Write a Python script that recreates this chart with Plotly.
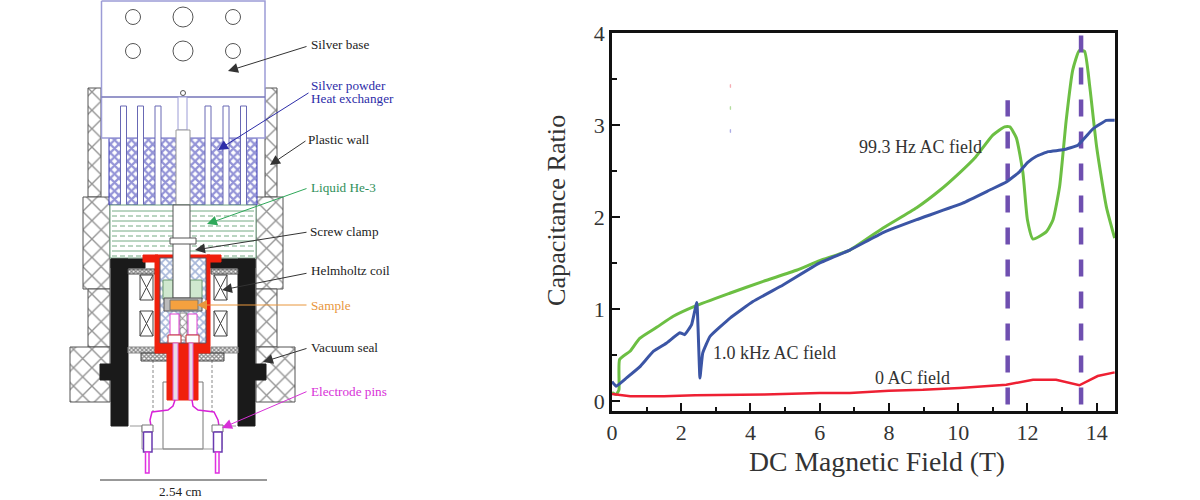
import plotly.graph_objects as go

# values
green_x = [0, 0.12, 0.2, 0.22, 0.52, 0.8, 1.29, 1.77, 2.4, 3.4, 4.37, 5.33, 6.0, 6.87, 7.83, 8.8, 9.47, 10.04, 10.5, 11.0, 11.34, 11.49, 11.68, 11.87, 12.0, 12.16, 12.55, 12.74, 12.93, 13.12, 13.31, 13.5, 13.65, 13.8, 14.0, 14.28, 14.52]
green_y = [0.09, 0.07, 0.12, 0.45, 0.54, 0.68, 0.80, 0.92, 1.03, 1.17, 1.30, 1.42, 1.525, 1.64, 1.88, 2.10, 2.29, 2.48, 2.65, 2.89, 2.98, 2.98, 2.86, 2.48, 1.97, 1.76, 1.84, 1.97, 2.33, 3.05, 3.6, 3.81, 3.80, 3.42, 2.76, 2.11, 1.77]
blue_x = [0, 0.12, 0.42, 0.8, 1.2, 1.58, 1.96, 2.1, 2.3, 2.45, 2.54, 2.62, 2.83, 3.41, 4.07, 4.94, 6.0, 6.87, 7.83, 8.8, 10.13, 10.9, 11.39, 11.77, 12.0, 12.26, 12.6, 13.03, 13.46, 13.9, 14.28, 14.52]
blue_y = [0.21, 0.16, 0.25, 0.37, 0.54, 0.63, 0.74, 0.72, 0.83, 1.07, 0.25, 0.52, 0.70, 0.90, 1.08, 1.26, 1.50, 1.64, 1.83, 1.97, 2.15, 2.29, 2.38, 2.49, 2.59, 2.66, 2.71, 2.73, 2.78, 2.96, 3.05, 3.05]
red_x = [0, 0.53, 1.5, 2.4, 4.4, 6.0, 6.87, 8.0, 8.98, 10.04, 11.39, 12.16, 12.83, 13.5, 14.03, 14.52]
red_y = [0.076, 0.05, 0.05, 0.06, 0.07, 0.085, 0.085, 0.11, 0.12, 0.14, 0.175, 0.23, 0.23, 0.17, 0.27, 0.31]
peak_x = [11.43, 13.55]
peak_top = [3.27, 4.0]
x_ticks = [0, 2, 4, 6, 8, 10, 12, 14]
y_ticks = [0, 1, 2, 3, 4]

SERIF = "Liberation Serif"
fig = go.Figure()

# ---- left panel: cell schematic, drawn on a hidden axis in picture units ----

def poly(xs, ys, fill=None, line="#555", width=1, pattern=None, dash=None):
    fig.add_trace(go.Scatter(
        x=xs, y=ys, xaxis="x2", yaxis="y2", mode="lines", hoverinfo="skip", showlegend=False,
        fill="toself" if (fill or pattern) else None,
        fillcolor=fill,
        fillpattern=pattern,
        line=dict(color=line, width=width, dash=dash),
    ))

def rect(x0, y0, x1, y1, **kw):
    poly([x0, x1, x1, x0, x0], [y0, y0, y1, y1, y0], **kw)

cross = dict(shape="x", size=13, solidity=0.2, fgcolor="#2a2a2a", bgcolor="white")
blue_cross = dict(shape="x", size=6, solidity=0.6, fgcolor="#2a2ab0", bgcolor="white")
fine_dots = dict(shape="x", size=3, solidity=0.65, fgcolor="#111", bgcolor="white")
PURPLE_EDGE = "#9c9cd6"
RED = "#f0200c"
BLACK = "#1a1a1a"

# plastic wall, left then right
rect(88, 88, 101, 197, pattern=cross, line="#555")
rect(83, 197, 110, 289, pattern=cross, line="#555")
rect(88, 289, 110, 347, pattern=cross, line="#555")
rect(70, 347, 110, 402, pattern=cross, line="#555")
rect(265, 88, 277, 197, pattern=cross, line="#555")
rect(256, 197, 283, 289, pattern=cross, line="#555")
rect(256, 289, 277, 347, pattern=cross, line="#555")
rect(256, 347, 295, 402, pattern=cross, line="#555")

# silver base, powder and fins
rect(109, 138, 257, 205, pattern=blue_cross, line="#3a3ab5")
rect(101.5, 1, 265, 138, fill="white", line=PURPLE_EDGE, width=1.5)
poly([101.5, 265], [97, 97], line="#7474b8", width=1.5)
for fx in [120.5, 137.5, 155, 205, 223, 240.5]:
    poly([fx, fx, fx + 6, fx + 6], [205, 106, 106, 205], fill="white", line="#6868b4")
rect(178, 97, 187, 130, fill="white", line=PURPLE_EDGE)
rect(176, 130, 190, 205, fill="white", line="#999")

# liquid He-3
rect(110, 205, 256, 258, fill="white", line="#70a080")
for i, ly in enumerate(range(211, 258, 5)):
    poly([112, 254], [ly, ly], line="#74ab84", width=1, dash=None if i % 2 == 0 else "5px,3px")

# black can
rect(111, 259, 145, 268, fill=BLACK, line=BLACK)
rect(111, 259, 128, 426, fill=BLACK, line=BLACK)
rect(100, 364, 111, 380, fill=BLACK, line=BLACK)
rect(208, 259, 255, 268, fill=BLACK, line=BLACK)
rect(238, 259, 255, 426, fill=BLACK, line=BLACK)
rect(255, 364, 266, 380, fill=BLACK, line=BLACK)
rect(128, 269, 155, 274, pattern=fine_dots, line="#444")
rect(211, 269, 238, 274, pattern=fine_dots, line="#444")
rect(128, 347, 155, 353, pattern=fine_dots, line="#888")
rect(211, 347, 238, 353, pattern=fine_dots, line="#888")

# helmholtz coil
for cx in [140, 214]:
    for cy in [275, 311]:
        rect(cx, cy, cx + 13, cy + 25, fill="white", line="#444")
        poly([cx, cx + 13, None, cx, cx + 13], [cy, cy + 25, None, cy + 25, cy], line="#444")

# lower tube
poly([153, 153], [355, 412], line="#888", dash="3px,2px")
poly([212, 212], [355, 412], line="#888", dash="3px,2px")
rect(163, 382, 203, 449, fill="white", line="#777")
rect(141, 353, 224, 361, pattern=fine_dots, line="#444")
poly([130, 142, 142, 222, 222, 236], [426, 426, 449, 449, 426, 426], line="#999")

# red cup and stem
rect(143, 255, 158, 262, fill=RED, line=RED)
rect(207, 255, 221, 262, fill=RED, line=RED)
rect(155, 255, 210, 353, fill=RED, line=RED)
rect(167, 353, 198, 400, fill=RED, line=RED)
rect(160, 258, 206, 343, pattern=dict(shape="x", size=6, solidity=0.5, fgcolor="#4f6fb4", bgcolor="white"), line="#556")
rect(163, 280, 173, 299, fill="#cfe8cf", line="#6a9a70")
rect(190, 280, 202, 299, fill="#cfe8cf", line="#6a9a70")
rect(173, 205, 190, 298, fill="white", line="#555")
rect(170, 238, 196, 244, fill="white", line="#555")
rect(164, 298, 202, 311, fill="#bbb", line="#555")
rect(170, 300, 198, 310, fill="#f5a13f", line="#777")
rect(180, 313, 187, 340, pattern=dict(shape="x", size=6, solidity=0.3, fgcolor="#222", bgcolor="white"), line="#888")
rect(170, 314, 179, 335, fill="white", line="#e040d0")
rect(188, 314, 197, 335, fill="white", line="#e040d0")
rect(168, 335, 181, 343, fill="white", line="#c03030")
rect(186, 335, 199, 343, fill="white", line="#c03030")
rect(173, 343, 178, 400, fill="#e8dce8", line="#e060d0")
rect(189, 343, 193, 400, fill="#e8dce8", line="#e060d0")

# electrode wires and pins
poly([175, 173, 168, 158, 152, 150, 151], [400, 406, 410, 411, 412, 420, 426], line="#d820d8", width=1.5)
poly([192, 193, 198, 208, 214, 218, 219], [400, 406, 410, 411, 412, 420, 426], line="#d820d8", width=1.5)
for px in [142, 212]:
    rect(px, 425, px + 11, 432, fill="white", line="#777")
    rect(px + 1.5, 432, px + 10, 452, fill="white", line="#6a3ab0", width=1.5)
    rect(px + 3.5, 452, px + 7, 473, fill="white", line="#e030e0", width=1.5)

poly([100, 267], [480, 480], line="#333", width=1)

for cx, cy, r in [(133, 17, 7.5), (183, 17, 10), (233, 17, 7.5), (133, 51, 7.5), (183, 51, 10), (233, 51, 7.5), (183, 93, 2.5)]:
    fig.add_shape(type="circle", xref="x2", yref="y2", x0=cx - r, x1=cx + r, y0=cy - r, y1=cy + r, line=dict(color="#555", width=1))

# stray specks in the middle of the picture
for sy, scol in [(86, "#f4a0a8"), (108, "#a8d890"), (131, "#a0a0e0")]:
    rect(730, sy - 1.5, 730.7, sy + 1.5, fill=scol, line=scol, width=0.5)

# callouts: colour, arrow tail and head
arrows = [
    ("#333", 308, 46, 228, 71),
    ("#2c2ca8", 310, 92, 218, 150),
    ("#333", 307, 140, 270, 165),
    ("#2fa85a", 308, 188, 207, 224),
    ("#333", 308, 232, 195, 250),
    ("#333", 308, 273, 222, 290),
    ("#e8963c", 308, 305, 197, 305),
    ("#333", 308, 348, 263, 362),
    ("#d830d8", 308, 391, 222, 428),
]
labels = [
    ("Silver base", "#222", 309, 44),
    ("Silver powder", "#2c2ca8", 309, 85),
    ("Heat exchanger", "#2c2ca8", 309, 98),
    ("Plastic wall", "#222", 306, 139),
    ("Liquid He-3", "#2f8f5a", 309, 187),
    ("Screw clamp", "#222", 308, 231),
    ("Helmholtz coil", "#222", 309, 270),
    ("Sample", "#e8963c", 309, 305),
    ("Vacuum seal", "#222", 309, 347),
    ("Electrode pins", "#d830d8", 309, 391),
]
for color, ax, ay, hx, hy in arrows:
    fig.add_annotation(xref="x2", yref="y2", axref="x2", ayref="y2", x=hx, y=hy, ax=ax, ay=ay, text="",
                       showarrow=True, arrowhead=2, arrowsize=2, arrowwidth=1, arrowcolor=color)
for label, color, tx, ty in labels:
    fig.add_annotation(xref="x2", yref="y2", x=tx, y=ty, text=label, showarrow=False, xanchor="left",
                       font=dict(family=SERIF, size=13.2, color=color))
fig.add_annotation(xref="x2", yref="y2", x=180, y=491, text="2.54 cm", showarrow=False,
                   font=dict(family=SERIF, size=13.2, color="#222"))

# ---- right panel: capacitance ratio against field ----
fig.add_trace(go.Scatter(x=green_x, y=green_y, mode="lines", line=dict(color="#6cbf43", width=3, shape="spline", smoothing=0.5), showlegend=False))
for px, top in zip(peak_x, peak_top):
    fig.add_trace(go.Scatter(x=[px, px], y=[-0.04, top], mode="lines", showlegend=False,
                             line=dict(color="#6f4fb0", width=4.5, dash="17px,15px")))
fig.add_trace(go.Scatter(x=blue_x, y=blue_y, mode="lines", line=dict(color="#3b55a5", width=3, shape="spline", smoothing=0.3), showlegend=False))
fig.add_trace(go.Scatter(x=red_x, y=red_y, mode="lines", line=dict(color="#ee2033", width=2.5), showlegend=False))

for label, lx, ly in [("99.3 Hz AC field", 8.92, 2.76), ("1.0 kHz AC field", 4.69, 0.52), ("0 AC field", 8.69, 0.25)]:
    fig.add_annotation(x=lx, y=ly, text=label, showarrow=False, xanchor="center",
                       font=dict(family=SERIF, size=18, color="#333"))

# axis titles sit off-centre in the original, so they are placed by hand
fig.add_annotation(xref="x2", yref="y2", x=877, y=461, text="DC Magnetic Field (T)", showarrow=False,
                   font=dict(family=SERIF, size=27.7, color="#333"))
fig.add_annotation(xref="x2", yref="y2", x=556, y=211, text="Capacitance Ratio", textangle=-90, showarrow=False,
                   font=dict(family=SERIF, size=26.2, color="#333"))

fig.update_layout(
    width=1200, height=500, margin=dict(l=0, r=0, t=0, b=0, autoexpand=False),
    paper_bgcolor="white", plot_bgcolor="rgba(0,0,0,0)",
    font=dict(family=SERIF, color="#333"),
    xaxis=dict(domain=[612 / 1200, 1115 / 1200], range=[0, 14.53], tickvals=x_ticks, ticks="inside", ticklen=8,
               tickwidth=2, tickcolor="#111", linecolor="#111", linewidth=2.5, mirror=True, showgrid=False, zeroline=False,
               minor=dict(ticks="inside", dtick=1, ticklen=4, tickwidth=2, tickcolor="#111", showgrid=False),
               automargin=False, tickfont=dict(size=22)),
    yaxis=dict(domain=[1 - 411 / 500, 1 - 33 / 500], range=[-0.11, 4.0], tickvals=y_ticks, ticks="inside", ticklen=8,
               tickwidth=2, tickcolor="#111", linecolor="#111", linewidth=2.5, mirror=True, showgrid=False, zeroline=False,
               minor=dict(ticks="inside", dtick=0.5, ticklen=5, tickwidth=2, tickcolor="#111", showgrid=False),
               automargin=False, tickfont=dict(size=22)),
    xaxis2=dict(domain=[0, 1], range=[0, 1200], visible=False, anchor="y2"),
    yaxis2=dict(domain=[0, 1], range=[500, 0], visible=False, anchor="x2"),
)

# the page's default body margin would shift the picture
fig.write_html("out.html", post_script="document.body.style.margin='0';", config=dict(displayModeBar=False))
